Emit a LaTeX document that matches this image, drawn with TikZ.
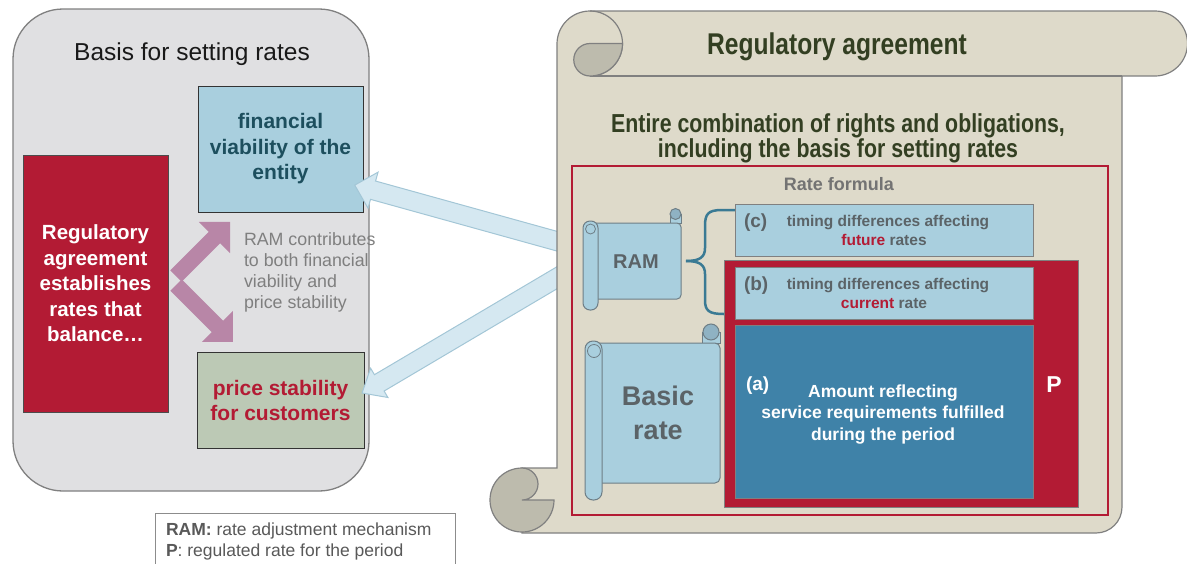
\documentclass[tikz,border=0pt]{standalone}
\usepackage{fontspec}
\setmainfont{Liberation Sans}
\newfontfamily\narrowfont{Liberation Sans}[FakeStretch=0.82]
\usetikzlibrary{calc}
\definecolor{panelgray}{HTML}{E0E0E2}
\definecolor{panelline}{HTML}{808080}
\definecolor{ifrsred}{HTML}{B31B34}
\definecolor{lightblue}{HTML}{A9CFDE}
\definecolor{darkteal}{HTML}{1D4F5E}
\definecolor{sagegreen}{HTML}{BCC9B5}
\definecolor{mauve}{HTML}{B886A7}
\definecolor{arrowfill}{HTML}{D5E8F1}
\definecolor{arrowline}{HTML}{A3C6D6}
\definecolor{parch}{HTML}{DEDACA}
\definecolor{curlgray}{HTML}{BDBBAD}
\definecolor{olive}{HTML}{333F22}
\definecolor{txtgray}{HTML}{7F7F7F}
\definecolor{boxtxt}{HTML}{5B6367}
\definecolor{steel}{HTML}{3F82A8}
\definecolor{bracecol}{HTML}{3A7A94}
\definecolor{iconline}{HTML}{6E7E86}
\definecolor{curlblue}{HTML}{8FB2C3}
\definecolor{legtxt}{HTML}{595959}
% style, tail, angle, length, half shaft, half head, head length
\newcommand\fatarrow[7]{%
  \begin{scope}[shift={#2},rotate=#3]
  \filldraw[#1] (0,-#5) -- ({#4-#7},-#5) -- ({#4-#7},-#6) -- (#4,0) -- ({#4-#7},#6) -- ({#4-#7},#5) -- (0,#5) -- cycle;
  \end{scope}}
\begin{document}
\begin{tikzpicture}[x=1pt,y=1pt,
  every node/.style={inner sep=0pt, outer sep=0pt},
  iconstyle/.style={fill=lightblue, draw=iconline, line width=1pt},
  smalltxt/.style={anchor=base, font=\bfseries\fontsize{15.5}{18}\selectfont, text=boxtxt},
  tagtxt/.style={anchor=base west, font=\bfseries\fontsize{19}{22}\selectfont},
  ramline/.style={anchor=base west, font=\fontsize{17.8}{21}\selectfont, text=txtgray},
  whitetxt/.style={anchor=base, font=\bfseries\fontsize{17.5}{21}\selectfont, text=white},
  legline/.style={anchor=base west, font=\fontsize{17.5}{21}\selectfont, text=legtxt}]
\useasboundingbox (0,0) rectangle (1187,-563);

% ---------- left panel ----------
\draw[fill=panelgray, draw=panelline, line width=1.3pt, rounded corners=50pt] (13,-9) rectangle (369,-491);
\node[anchor=base, font=\fontsize{24.5}{29}\selectfont, text=black!90] (basis) at (192,-60) {Basis for setting rates};

\node[fill=ifrsred, draw=black!70, line width=1pt, minimum width=145pt, minimum height=257pt,
      align=center, text=white, font=\bfseries\fontsize{20.5}{25.5}\selectfont] (bal) at (95.5,-283.5)
      {Regulatory\\agreement\\establishes\\rates that\\balance…};
\node[fill=lightblue, draw=black!80, line width=1pt, minimum width=165pt, minimum height=126pt,
      align=center, text=darkteal, font=\bfseries\fontsize{21}{25.5}\selectfont] (fin) at (280.5,-149)
      {financial\\viability of the\\entity};
\node[fill=sagegreen, draw=black!80, line width=1pt, minimum width=167pt, minimum height=96pt,
      align=center, text=ifrsred, font=\bfseries\fontsize{21}{25}\selectfont] (price) at (280.5,-400)
      {price stability\\for customers};

% purple arrows
\fatarrow{fill=mauve, draw=none}{(176,-276)}{45}{76.4}{8}{22}{22}
\fatarrow{fill=mauve, draw=none}{(176,-285)}{-45}{80.6}{8}{22}{22}

\node[ramline] (r1) at (244,-245) {RAM contributes};
\node[ramline] (r2) at (244,-266) {to both financial};
\node[ramline] (r3) at (244,-287) {viability and};
\node[ramline] (r4) at (244,-308) {price stability};

% light blue arrows from the agreement
\fatarrow{fill=arrowfill, draw=arrowline, line width=1pt}{(575,-246.2)}{164.5}{228.6}{9.5}{18.7}{19}
\fatarrow{fill=arrowfill, draw=arrowline, line width=1pt}{(575,-267.1)}{210.6}{247.4}{9.5}{17}{20}

% ---------- scroll ----------
\filldraw[fill=parch, draw=panelline, line width=1.2pt]
  (557,-44) arc[start angle=180,end angle=90,radius=33] -- (1155,-11)
  arc[start angle=90,end angle=-90,radius=32.5] -- (1122,-76) -- (1122,-507)
  arc[start angle=0,end angle=-90,radius=26] -- (522,-533) -- (522,-468) -- (557,-468) -- cycle;
\draw[panelline, line width=1.2pt] (590,-76) -- (1122,-76);
\draw[panelline, line width=1.2pt] (590,-11) arc[start angle=90,end angle=-90,radius=32.5];
\filldraw[fill=curlgray, draw=panelline, line width=1.2pt]
  (590,-43.5) -- (622.5,-43.5) arc[start angle=0,end angle=-90,radius=32.5]
  arc[start angle=270,end angle=90,radius=16.25] -- cycle;
\filldraw[fill=curlgray, draw=panelline, line width=1.2pt]
  (522,-468) arc[start angle=90,end angle=360,radius=32] -- (522,-500)
  arc[start angle=-90,end angle=90,radius=16] -- cycle;

\node[anchor=base, font=\narrowfont\bfseries\fontsize{30}{36}\selectfont, text=olive] (ragr) at (837,-54) {Regulatory agreement};
\node[anchor=base, font=\narrowfont\bfseries\fontsize{26}{31}\selectfont, text=olive] (ent1) at (838,-132) {Entire combination of rights and obligations,};
\node[anchor=base, font=\narrowfont\bfseries\fontsize{26}{31}\selectfont, text=olive] (ent2) at (838,-157) {including the basis for setting rates};

% rate formula frame
\draw[ifrsred, line width=2pt] (572,-166) rectangle (1108,-515);
\node[anchor=base, font=\bfseries\fontsize{18}{21}\selectfont, text=black!55] (rf) at (839,-190) {Rate formula};

% RAM mini scroll
\filldraw[iconstyle] (670,-223) rectangle (681,-214);
\filldraw[iconstyle, fill=curlblue] (675.5,-214) circle[radius=5.5];
\filldraw[iconstyle, rounded corners=4pt] (590,-223) rectangle (681,-299);
\filldraw[iconstyle, rounded corners=7pt] (583,-221) rectangle (598,-310);
\draw[iconline, line width=0.8pt] (590.5,-229) circle[radius=5];
\node[anchor=base, font=\bfseries\fontsize{20}{24}\selectfont, text=boxtxt] (ram) at (636,-268) {RAM};

% Basic rate mini scroll
\filldraw[iconstyle] (702,-343) rectangle (720,-332);
\filldraw[iconstyle, fill=curlblue] (711,-332) circle[radius=8];
\filldraw[iconstyle, rounded corners=5pt] (593,-343) rectangle (720,-483);
\filldraw[iconstyle, rounded corners=8pt] (585,-341) rectangle (602,-500);
\draw[iconline, line width=0.8pt] (594,-351) circle[radius=6.5];
\node[anchor=base, font=\bfseries\fontsize{27}{32}\selectfont, text=boxtxt] (basic1) at (658,-405) {Basic};
\node[anchor=base, font=\bfseries\fontsize{27}{32}\selectfont, text=boxtxt] (basic2) at (658,-439) {rate};

% brace
\draw[bracecol, line width=2.5pt] (735,-210) -- (722,-210) .. controls (708,-210) and (705,-214) .. (705,-226)
  -- (705,-248) .. controls (705,-257) and (700,-261) .. (686,-261);
\draw[bracecol, line width=2.5pt] (686,-261) .. controls (700,-261) and (705,-265) .. (705,-274)
  -- (705,-300) .. controls (705,-311) and (709,-314) .. (724,-314);

% (c) box
\node[fill=lightblue, draw=black!50, line width=1pt, minimum width=298pt, minimum height=52pt] (cbox) at (884,-230) {};
\node[tagtxt, text=boxtxt] (ctag) at (744,-227) {(c)};
\node[smalltxt] (c1) at (888,-226) {timing differences affecting};
\node[smalltxt] (c2) at (884,-245) {\textcolor{ifrsred}{future} rates};

% P box
\node[fill=ifrsred, draw=black!50, line width=1pt, minimum width=354pt, minimum height=247pt] (pbox) at (901,-383.5) {};
\node[anchor=base, font=\bfseries\fontsize{23}{27}\selectfont, text=white] (plabel) at (1054,-392) {P};

% (b) box
\node[fill=lightblue, draw=black!50, line width=1pt, minimum width=298pt, minimum height=52pt] (bbox) at (884,-293) {};
\node[tagtxt, text=boxtxt] (btag) at (744,-290) {(b)};
\node[smalltxt] (b1) at (888,-289) {timing differences affecting};
\node[smalltxt] (b2) at (884,-308) {\textcolor{ifrsred}{current} rate};

% (a) box
\node[fill=steel, draw=black!50, line width=1pt, minimum width=298pt, minimum height=173pt] (abox) at (884,-411.5) {};
\node[tagtxt, text=white] (atag) at (746,-390) {(a)};
\node[whitetxt] (a1) at (883,-397) {Amount reflecting};
\node[whitetxt] (a2) at (883,-418) {service requirements fulfilled};
\node[whitetxt] (a3) at (883,-440) {during the period};

% legend
\draw[fill=white, draw=black!45, line width=1pt] (155,-513) rectangle (455,-575);
\node[legline] (leg1) at (166,-535) {\textbf{RAM:} rate adjustment mechanism};
\node[legline] (leg2) at (166,-556) {\textbf{P}: regulated rate for the period};
\end{tikzpicture}
\end{document}
